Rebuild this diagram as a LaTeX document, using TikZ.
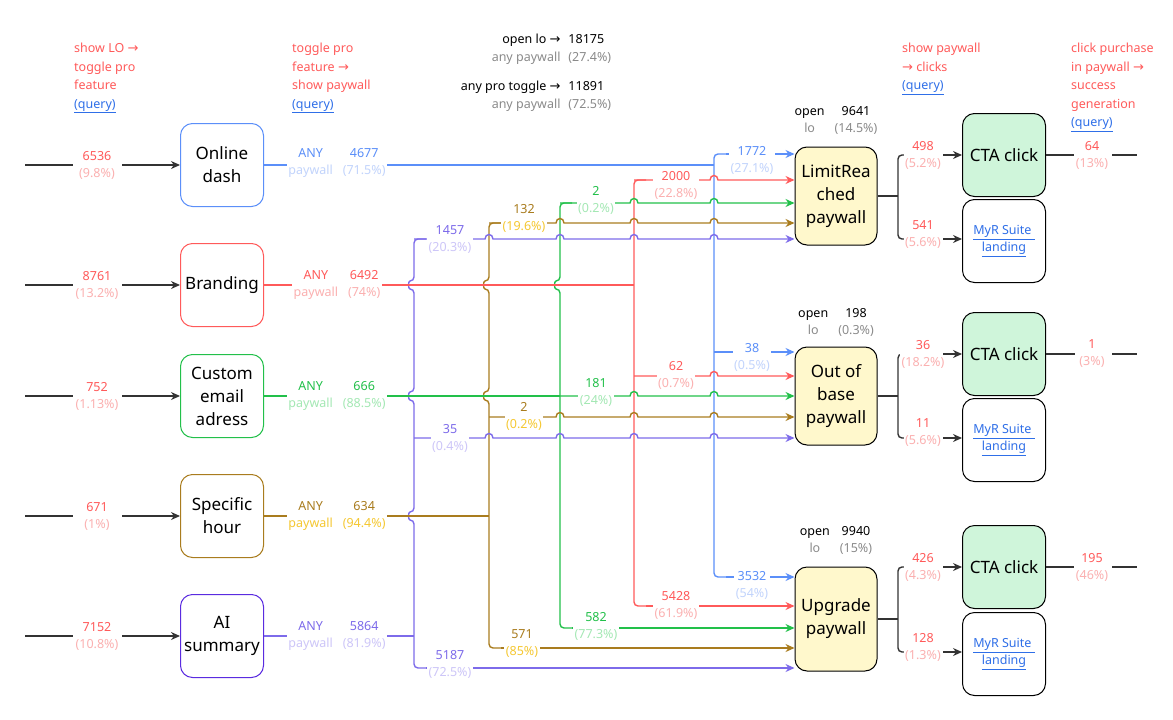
\documentclass[tikz,border=0pt]{standalone}
\usepackage{fontspec}
\setmainfont{Noto Sans}
\newfontfamily\arrf{DejaVu Sans}
\newcommand\ra{{\arrf\fontsize{13}{13}\selectfont →}}
\usetikzlibrary{arrows.meta}
\definecolor{R}{HTML}{FF5A5A}\definecolor{RL}{HTML}{FBB0B0}
\definecolor{B}{HTML}{5B8FF9}\definecolor{BL}{HTML}{C2D4FC}
\definecolor{G}{HTML}{22C04A}\definecolor{GL}{HTML}{A4E8B4}
\definecolor{N}{HTML}{A97C1E}\definecolor{NL}{HTML}{F5C832}
\definecolor{P}{HTML}{7D6BEA}\definecolor{PL}{HTML}{CDC6F8}
\definecolor{PB}{HTML}{5A2BE0}\definecolor{DK}{HTML}{333333}
\definecolor{GR}{HTML}{8A8A8A}\definecolor{YF}{HTML}{FFF8CC}\definecolor{CF}{HTML}{CFF5DA}
\definecolor{LK}{HTML}{2F6FE8}
\newcommand\vv[2]{{\color{#1}#2}}
\newcommand\lb[4]{\vv{#1}{#2}\\\vv{#3}{#4}}
\newcommand\qry{\vv{LK}{\underline{(query)}}}
\begin{document}
\begin{tikzpicture}[x=1pt,y=-1pt,
  ar/.style={-{Stealth[length=9pt,width=8pt]}},
  ln/.style={line width=1.4pt},
  src/.style={draw,line width=1pt,rounded corners=12pt,minimum width=83pt,minimum height=83pt,fill=white,align=center,font=\fontsize{17}{23}\selectfont,inner sep=1pt},
  tgt/.style={src,draw=black,fill=YF,minimum width=82pt},
  lbl/.style={fill=white,align=center,inner sep=1.5pt,font=\fontsize{12.5}{17}\selectfont},
  hd/.style={anchor=north west,align=left,font=\fontsize{12.5}{18.5}\selectfont,text=R,inner sep=0pt},
  rc/.style={rounded corners=4pt}]
\useasboundingbox (0,0) rectangle (1173,720);
% headers
\node[hd] at (74,43) {show LO \ra\\toggle pro\\feature\\\qry};
\node[hd] at (292,43) {toggle pro\\feature \ra\\show paywall\\\qry};
\node[hd] at (902,43) {show paywall\\\ra\ clicks\\\qry};
\node[hd] at (1071,43) {click purchase\\in paywall \ra\\success\\generation\\\qry};
\node[font=\fontsize{12.5}{18}\selectfont,inner sep=0pt] (top) at (536,72) {\begin{tabular}{@{}r@{\hspace{8pt}}l@{}}open lo \ra & 18175\\ \vv{GR}{any paywall} & \vv{GR}{(27.4\%)}\\[11pt] any pro toggle \ra & 11891\\ \vv{GR}{any paywall} & \vv{GR}{(72.5\%)}\end{tabular}};
% source boxes
\node[src,draw=B] (s1) at (222,165) {Online\\dash};
\node[src,draw=R] (s2) at (222,285) {Branding};
\node[src,draw=G] (s3) at (222,396) {Custom\\email\\adress};
\node[src,draw=N] (s4) at (222,516) {Specific\\hour};
\node[src,draw=PB] (s5) at (222,636) {AI\\summary};
% inputs
\foreach \y/\n/\p/\s in {165/6536/9.8/s1,285/8761/13.2/s2,396/752/1.13/s3,516/671/1/s4,636/7152/10.8/s5}{
  \coordinate (i\s) at (25,\y);
  \draw[ln,DK] (i\s) -- (73,\y);
  \draw[ln,DK,ar] (122,\y) -- (\s.west);
  \node[lbl] at (97,\y) {\lb{R}{\n}{RL}{(\p\%)}};
}
% target boxes
\node[tgt,minimum height=98pt] (t1) at (836,196) {LimitRea\\ched\\paywall};
\node[tgt,minimum height=98pt] (t2) at (836,396) {Out of\\base\\paywall};
\node[tgt,minimum height=104pt] (t3) at (836,619) {Upgrade\\paywall};
\foreach \y/\a/\b/\t in {121/9641/14.5/t1,323/198/0.3/t2,541/9940/15/t3}
  \node[font=\fontsize{12.5}{17}\selectfont,inner sep=0pt] at (836,\y) {\begin{tabular}{@{}c@{\hspace{10pt}}c@{}}open & \a\\ \vv{GR}{lo} & \vv{GR}{(\b\%)}\end{tabular}};
% buses (vertical with hops)
\draw[ln,P,rc] (426,239) -- (414,239) -- (414,281) .. controls (408,281) and (408,289) .. (414,289) -- (414,392) .. controls (408,392) and (408,400) .. (414,400) -- (414,512) .. controls (408,512) and (408,520) .. (414,520) -- (414,668) -- (426,668);
\draw[ln,N,rc] (501,223) -- (489,223) -- (489,281) .. controls (483,281) and (483,289) .. (489,289) -- (489,392) .. controls (483,392) and (483,400) .. (489,400) -- (489,648) -- (501,648);
\draw[ln,G,rc] (572,203) -- (560,203) -- (560,281) .. controls (554,281) and (554,289) .. (560,289) -- (560,628) -- (572,628);
\draw[ln,R,rc] (646,180) -- (634,180) -- (634,606) -- (646,606);
\draw[ln,B,rc] (726,154) -- (714,154) -- (714,577) -- (726,577);
% rows from sources
\draw[ln,B] (s1.east) -- (714,165);
\draw[ln,R] (s2.east) -- (634,285);
\draw[ln,G] (s3.east) -- (560,396);
\draw[ln,N] (s4.east) -- (489,516);
\draw[ln,P] (s5.east) -- (414,636);
\node[lbl] at (337,163) {\begin{tabular}{@{}c@{\hspace{10pt}}c@{}}\vv{B}{ANY}&\vv{B}{4677}\\\vv{BL}{paywall}&\vv{BL}{(71.5\%)}\end{tabular}};
\node[lbl] at (337,285) {\begin{tabular}{@{}c@{\hspace{10pt}}c@{}}\vv{R}{ANY}&\vv{R}{6492}\\\vv{RL}{paywall}&\vv{RL}{(74\%)}\end{tabular}};
\node[lbl] at (337,396) {\begin{tabular}{@{}c@{\hspace{10pt}}c@{}}\vv{G}{ANY}&\vv{G}{666}\\\vv{GL}{paywall}&\vv{GL}{(88.5\%)}\end{tabular}};
\node[lbl] at (337,516) {\begin{tabular}{@{}c@{\hspace{10pt}}c@{}}\vv{N}{ANY}&\vv{N}{634}\\\vv{NL}{paywall}&\vv{NL}{(94.4\%)}\end{tabular}};
\node[lbl] at (337,636) {\begin{tabular}{@{}c@{\hspace{10pt}}c@{}}\vv{P}{ANY}&\vv{P}{5864}\\\vv{PL}{paywall}&\vv{PL}{(81.9\%)}\end{tabular}};
% branches with hops
\newcommand\br[5]{\draw[ln,#1,ar] (#3,#2) \foreach \h in {#5}{ -- (\h-4,#2) .. controls (\h-4,#2-6) and (\h+4,#2-6) .. (\h+4,#2)} -- (#4.west |- 0,#2);}
\br{P}{239}{414}{t1}{489,560,634,714}
\br{P}{438}{414}{t2}{489,560,634,714}
\draw[ln,P,ar] (426,668) -- (t3.west |- 0,668);
\br{N}{223}{489}{t1}{560,634,714}
\br{N}{417}{489}{t2}{560,634,714}
\draw[ln,N,ar] (501,648) -- (t3.west |- 0,648);
\br{G}{203}{560}{t1}{634,714}
\br{G}{396}{560}{t2}{634,714}
\draw[ln,G,ar] (572,628) -- (t3.west |- 0,628);
\br{R}{180}{634}{t1}{714}
\br{R}{376}{634}{t2}{714}
\draw[ln,R,ar] (646,606) -- (t3.west |- 0,606);
\draw[ln,B,ar] (726,154) -- (t1.west |- 0,154);
\draw[ln,B,ar] (714,352) -- (t2.west |- 0,352);
\draw[ln,B,ar] (726,577) -- (t3.west |- 0,577);
% branch labels
\foreach \x/\y/\c/\n/\p in {450/239/P/1457/20.3,450/438/P/35/0.4,450/664/P/5187/72.5,
  524/218/N/132/19.6,524/416/N/2/0.2,522/644/N/571/85,
  596/200/G/2/0.2,596/392/G/181/24,596/626/G/582/77.3,
  676/185/R/2000/22.8,676/375/R/62/0.7,676/605/R/5428/61.9,
  752/160/B/1772/27.1,752/357/B/38/0.5,752/585/B/3532/54}
  \node[lbl] at (\x,\y) {\lb{\c}{\n}{\c L}{(\p\%)}};
% right part
\foreach \t/\yc/\ya/\yb/\na/\pa/\nb/\pb/\no/\po [count=\k] in {t1/196/155/239/498/5.2/541/5.6/64/13,t2/396/354/438/36/18.2/11/5.6/1/3,t3/619/567/652/426/4.3/128/1.3/195/46}{
  \node[src,draw=black,fill=CF] (c\k) at (1004,\ya) {CTA click};
  \node[src,draw=black,font=\fontsize{12.5}{17}\selectfont] (m\k) at (1004,\yb+2) {\vv{LK}{\underline{MyR Suite }}\\\vv{LK}{\underline{landing}}};
  \draw[ln,DK] (\t.east) -- (893,\yc);
  \draw[ln,DK,rc] (905,\ya) -- (898,\ya) -- (898,\yb) -- (905,\yb);
  \draw[ln,DK] (893,\yc) -- (898,\yc);
  \node[lbl] at (923,\ya+0) {\lb{R}{\na}{RL}{(\pa\%)}};
  \node[lbl] at (923,\yb-5) {\lb{R}{\nb}{RL}{(\pb\%)}};
  \draw[ln,DK,ar] (943,\ya) -- (c\k.west);
  \draw[ln,DK,ar] (943,\yb) -- (m\k.west |- 0,\yb);
  \draw[ln,DK] (c\k.east) -- (1075,\ya);
  \node[lbl] at (1092,\ya) {\lb{R}{\no}{RL}{(\po\%)}};
  \coordinate (e\k) at (1137,\ya);
  \draw[ln,DK] (1112,\ya) -- (e\k);
}
\end{tikzpicture}
\end{document}
